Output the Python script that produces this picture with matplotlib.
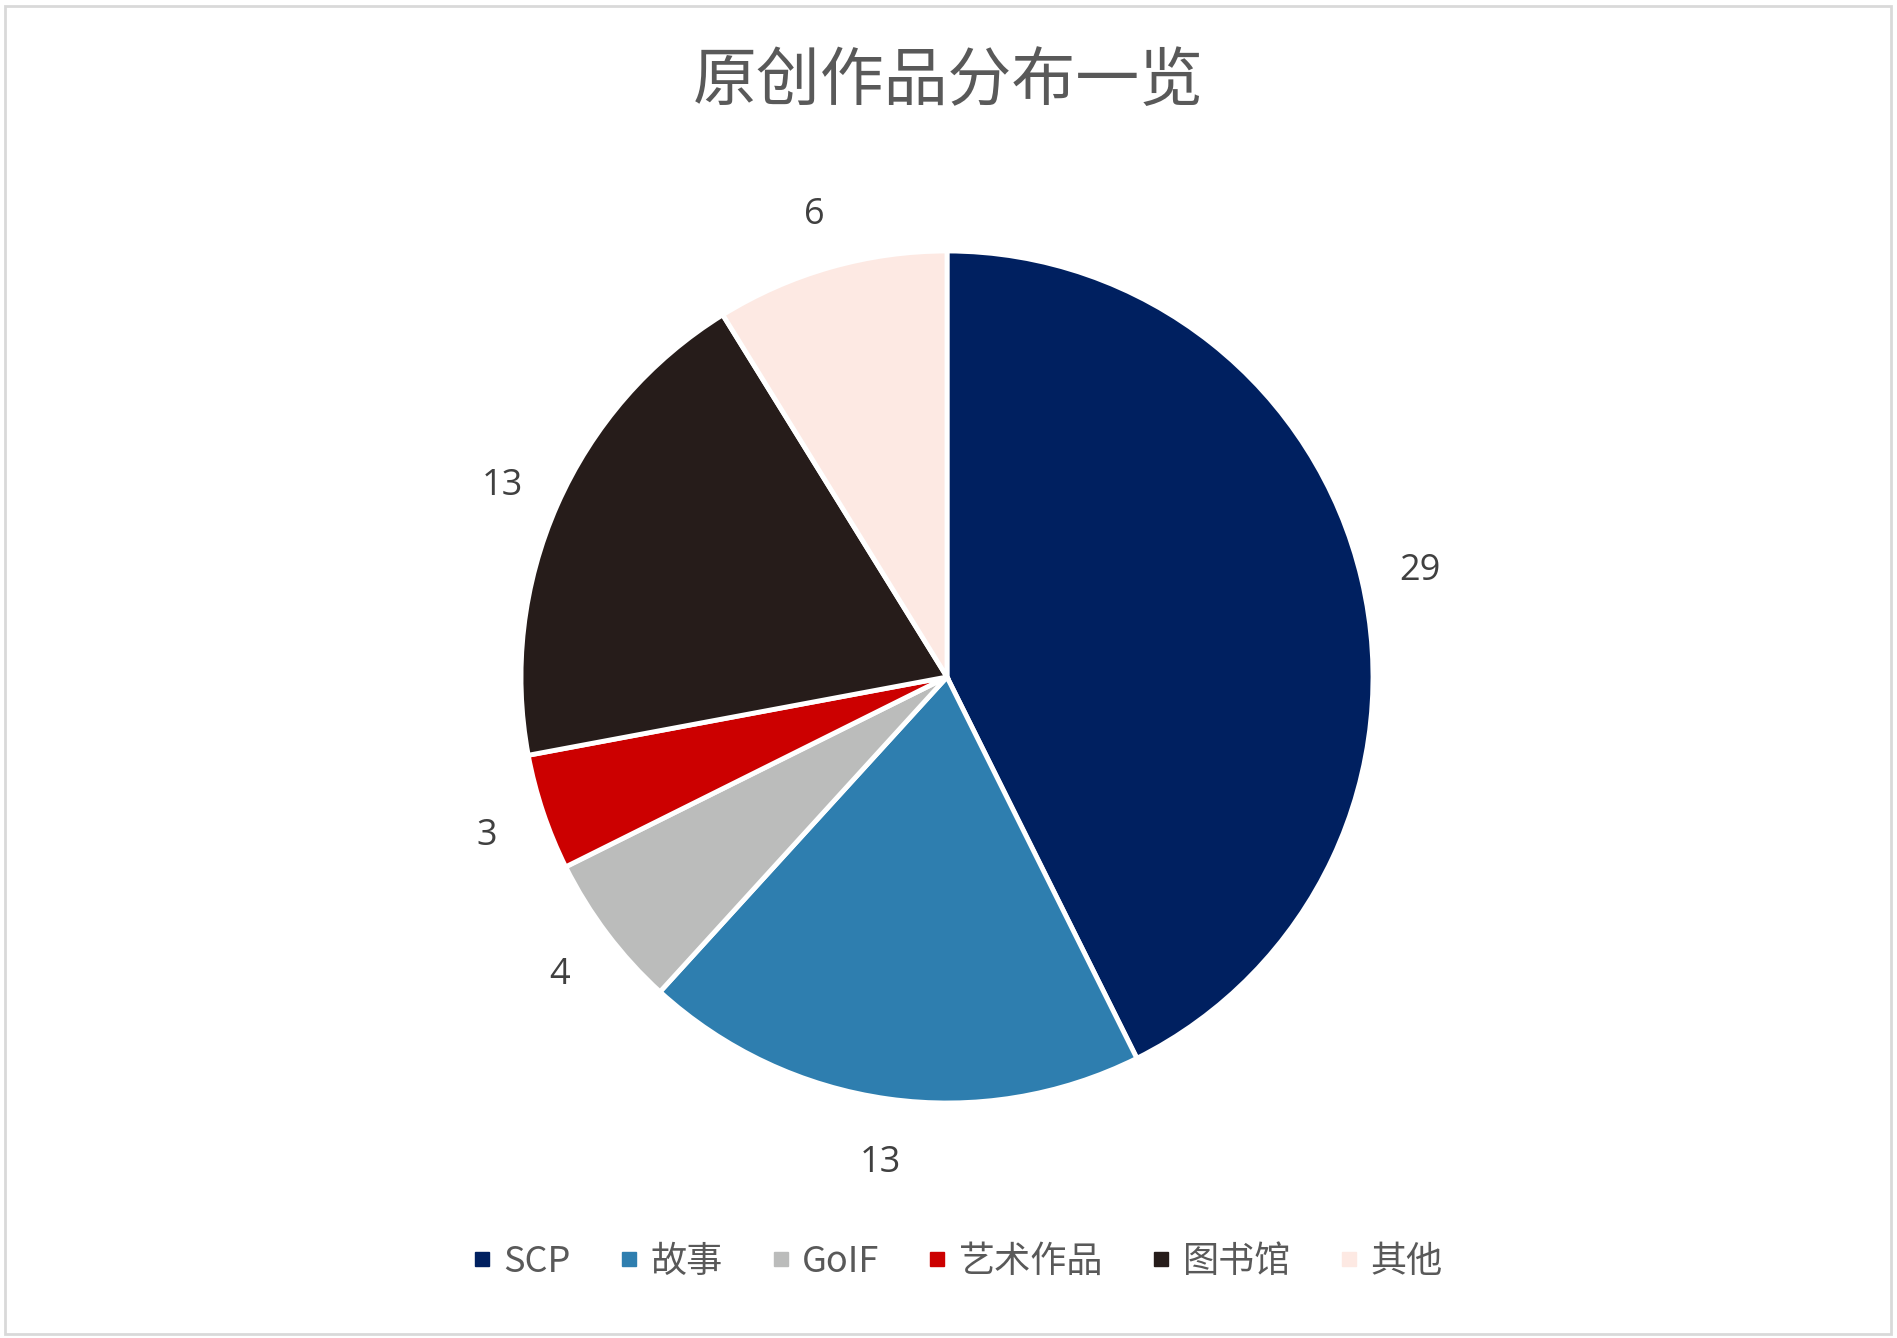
import matplotlib
matplotlib.use("Agg")
import matplotlib.pyplot as plt
from matplotlib.lines import Line2D
from matplotlib.patches import Rectangle
import matplotlib.transforms as mtransforms

plt.rcParams['font.family'] = ['Noto Sans CJK SC', 'DejaVu Sans']

categories = ['SCP', '故事', 'GoIF', '艺术作品', '图书馆', '其他']
values = [29, 13, 4, 3, 13, 6]
colors = ['#002060', '#2E7EAF', '#BBBCBB', '#CC0000', '#261C1A', '#FDE9E3']
title = '原创作品分布一览'

W, H = 1897, 1338
fig = plt.figure(figsize=(W / 100, H / 100), dpi=100)

# outer frame
fig.patches.append(Rectangle((5 / W, 4 / H), (W - 11) / W, (H - 10) / H,
                             transform=fig.transFigure, fill=False,
                             edgecolor='#D9D9D9', linewidth=2))

cx, cy, r = 947, 677, 426
ax = fig.add_axes([(cx - r) / W, (H - cy - r) / H, 2 * r / W, 2 * r / H])
wedges, texts = ax.pie(values, colors=colors, startangle=90, counterclock=False,
                       labels=[str(v) for v in values], labeldistance=1.14,
                       wedgeprops=dict(edgecolor='white', linewidth=3.5),
                       textprops=dict(fontsize=26, color='#404040', fontweight='medium',
                                      family=['Open Sans', 'DejaVu Sans']))
shift = mtransforms.ScaledTranslation(0, -5 / 100, fig.dpi_scale_trans)
for t in texts:
    t.set_horizontalalignment('center')
    t.set_verticalalignment('center')
    t.set_transform(t.get_transform() + shift)
ax.set_xlim(-1, 1)
ax.set_ylim(-1, 1)
ax.set_aspect('equal')

fig.text(0.5, 1 - 82 / H, title, ha='center', va='center', fontsize=46, color='#595959')

handles = [Line2D([], [], marker='s', linestyle='none', markersize=10,
                  markerfacecolor=c, markeredgecolor=c) for c in colors]
leg = fig.legend(handles, categories, loc='center', bbox_to_anchor=(0.5045, 1 - 1262 / H),
                 ncol=6, frameon=False, fontsize=26, handlelength=0.6, handletextpad=0.3,
                 columnspacing=1.3, labelcolor='#595959')

fig.savefig('out.png', dpi=100, facecolor='white')
